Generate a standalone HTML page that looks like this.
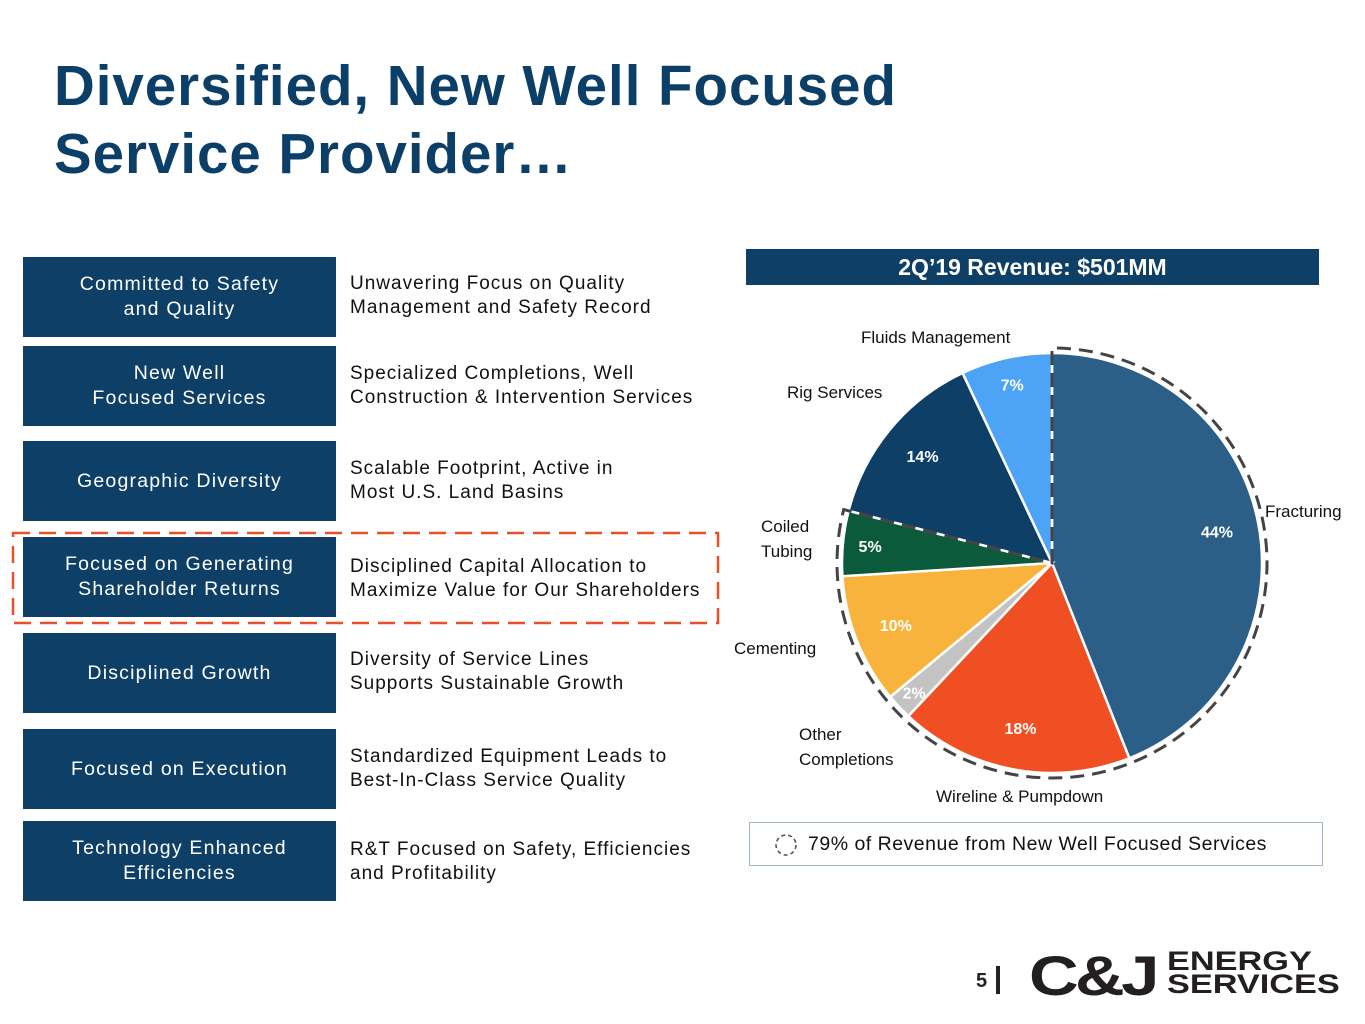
<!DOCTYPE html>
<html><head><meta charset="utf-8">
<style>
body{margin:0;width:1365px;height:1024px;background:#fff;font-family:"Liberation Sans",sans-serif;position:relative;overflow:hidden}
.t{position:absolute;left:54px;top:52px;font-size:57px;font-weight:bold;color:#0c3f68;line-height:68px;letter-spacing:1px;transform:scaleX(0.99);transform-origin:left}
.box{position:absolute;left:23px;width:313px;height:80px;background:#0e3f66;color:#fff;font-size:19.5px;display:flex;align-items:center;justify-content:center;text-align:center;line-height:25px;letter-spacing:1.2px}
.desc{position:absolute;left:350px;font-size:19px;line-height:24px;color:#111;letter-spacing:1px}
.pl{position:absolute;font-size:17px;color:#111;line-height:25px}
</style></head><body>
<div class="t">Diversified, New Well Focused<br>Service Provider…</div>

<div class="box" style="top:257px">Committed to Safety<br>and Quality</div>
<div class="desc" style="top:272px">Unwavering Focus on Quality<br>Management and Safety Record</div>
<div class="box" style="top:346px">New Well<br>Focused Services</div>
<div class="desc" style="top:362px">Specialized Completions, Well<br>Construction &amp; Intervention Services</div>
<div class="box" style="top:441px">Geographic Diversity</div>
<div class="desc" style="top:457px">Scalable Footprint, Active in<br>Most U.S. Land Basins</div>
<div class="box" style="top:537px">Focused on Generating<br>Shareholder Returns</div>
<div class="desc" style="top:555px">Disciplined Capital Allocation to<br>Maximize Value for Our Shareholders</div>
<div class="box" style="top:633px">Disciplined Growth</div>
<div class="desc" style="top:648px">Diversity of Service Lines<br>Supports Sustainable Growth</div>
<div class="box" style="top:729px">Focused on Execution</div>
<div class="desc" style="top:745px">Standardized Equipment Leads to<br>Best-In-Class Service Quality</div>
<div class="box" style="top:821px">Technology Enhanced<br>Efficiencies</div>
<div class="desc" style="top:838px">R&amp;T Focused on Safety, Efficiencies<br>and Profitability</div>

<svg style="position:absolute;left:0;top:0" width="1365" height="1024">
<rect x="13" y="533" width="705" height="90" fill="none" stroke="#e8502a" stroke-width="2.5" stroke-dasharray="17,9"/>
</svg>

<div style="position:absolute;left:746px;top:249px;width:573px;height:36px;background:#0e3f66;color:#fff;font-weight:bold;font-size:23px;text-align:center;line-height:37px">2Q’19 Revenue: $501MM</div>

<svg id="pie" style="position:absolute;left:0;top:0" width="1365" height="1024"></svg>

<div style="position:absolute;left:749px;top:822px;width:574px;height:44px;border:1.5px solid #9fb6c8;box-sizing:border-box">
<svg style="position:absolute;left:22px;top:8px" width="28" height="28"><circle cx="14" cy="14" r="10" fill="none" stroke="#555" stroke-width="1.6" stroke-dasharray="4,3"/></svg>
<span style="position:absolute;left:58px;top:10px;font-size:19.5px;color:#111;letter-spacing:0.5px">79% of Revenue from New Well Focused Services</span>
</div>

<div style="position:absolute;left:976px;top:970px;font-size:20px;font-weight:bold;color:#222">5</div>
<div style="position:absolute;left:996px;top:966px;width:4px;height:28px;background:#222"></div>
<div style="position:absolute;left:1029px;top:943px;font-size:56px;font-weight:900;color:#231f20;letter-spacing:-3px;transform:scaleX(1.23);transform-origin:left">C&amp;J</div>
<div style="position:absolute;left:1167px;top:950px;font-size:27px;font-weight:900;color:#231f20;line-height:23px;transform:scaleX(1.27);transform-origin:left">ENERGY<br>SERVICES</div>

<script>
const categories=["Fracturing","Wireline & Pumpdown","Other Completions","Cementing","Coiled Tubing","Rig Services","Fluids Management"];
const values=[44,18,2,10,5,14,7];
const pctLabels=["44%","18%","2%","10%","5%","14%","7%"];
const colors=["#2c5f88","#f04e23","#c3c3c3","#f7b33c","#0b5a3b","#0e3f66","#4da3f5"];
const newWell=[true,true,true,true,true,false,false];
const svg=document.getElementById('pie');
const NS="http://www.w3.org/2000/svg";
const cx=1052,cy=563,R=210;
const total=values.reduce((a,b)=>a+b,0);
function pt(a,r){return [cx+r*Math.sin(a),cy-r*Math.cos(a)];}
function ang(v){return v/total*2*Math.PI;}
let acc=0,nwEnd=0;
values.forEach((v,i)=>{
  const a0=ang(acc),a1=ang(acc+v);acc+=v;
  if(newWell[i])nwEnd=a1;
  const p0=pt(a0,R),p1=pt(a1,R);
  const path=document.createElementNS(NS,'path');
  path.setAttribute('d',`M${cx},${cy}L${p0[0]},${p0[1]}A${R},${R} 0 ${a1-a0>Math.PI?1:0} 1 ${p1[0]},${p1[1]}Z`);
  path.setAttribute('fill',colors[i]);path.setAttribute('stroke','#fff');path.setAttribute('stroke-width','2.5');
  
  
  svg.appendChild(path);
  const m=(a0+a1)/2,lr=v<4?R*0.9:(v<=7?R*0.87:R*0.8);const lp=pt(m,lr);
  const t=document.createElementNS(NS,'text');
  t.setAttribute('x',lp[0]);t.setAttribute('y',lp[1]+6);t.setAttribute('text-anchor','middle');
  t.setAttribute('fill','#fff');t.setAttribute('font-size','16');t.setAttribute('font-weight','bold');
  t.setAttribute('font-family','Liberation Sans, sans-serif');
  t.textContent=pctLabels[i];
  
  
  svg.appendChild(t);
});
const R2=R+5,e=pt(nwEnd,R2),s=pt(0,R2);
const d=document.createElementNS(NS,'path');
d.setAttribute('d',`M${cx},${cy}L${s[0]},${s[1]}A${R2},${R2} 0 ${nwEnd>Math.PI?1:0} 1 ${e[0]},${e[1]}Z`);
d.setAttribute('fill','none');d.setAttribute('stroke','#444');d.setAttribute('stroke-width','3');d.setAttribute('stroke-dasharray','14,8');


svg.appendChild(d);
</script>
<div class="pl" style="left:1265px;top:499px">Fracturing</div>
<div class="pl" style="left:936px;top:784px">Wireline &amp; Pumpdown</div>
<div class="pl" style="left:799px;top:722px">Other<br>Completions</div>
<div class="pl" style="left:734px;top:636px">Cementing</div>
<div class="pl" style="left:761px;top:514px">Coiled<br>Tubing</div>
<div class="pl" style="left:787px;top:380px">Rig Services</div>
<div class="pl" style="left:861px;top:325px">Fluids Management</div>
</body></html>
